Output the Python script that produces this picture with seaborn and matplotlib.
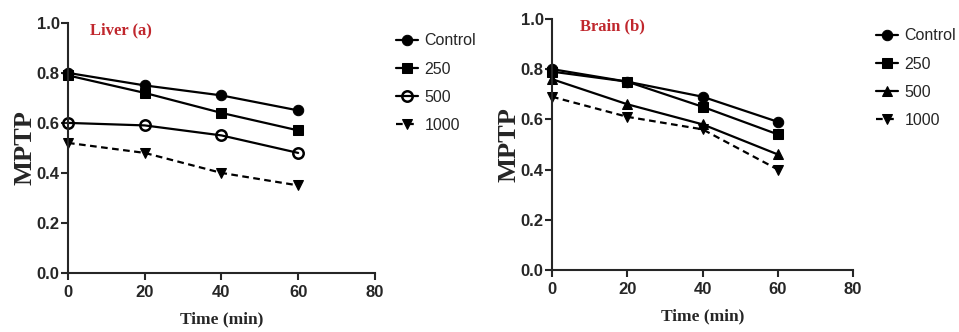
import matplotlib
matplotlib.use("Agg")
import matplotlib.pyplot as plt
import seaborn as sns
import pandas as pd

time_min = [0, 20, 40, 60]
groups = ["Control", "250", "500", "1000"]

liver_control = [0.80, 0.75, 0.71, 0.65]
liver_250 = [0.79, 0.72, 0.64, 0.57]
liver_500 = [0.60, 0.59, 0.55, 0.48]
liver_1000 = [0.52, 0.48, 0.40, 0.35]

brain_control = [0.80, 0.75, 0.69, 0.59]
brain_250 = [0.79, 0.75, 0.65, 0.54]
brain_500 = [0.76, 0.66, 0.58, 0.46]
brain_1000 = [0.69, 0.61, 0.56, 0.40]

x_ticks = [0, 20, 40, 60, 80]
y_ticks = [0.0, 0.2, 0.4, 0.6, 0.8, 1.0]


def long_frame(series):
    rows = []
    for g, vals in zip(groups, series):
        for t, v in zip(time_min, vals):
            rows.append({"Time": t, "MPTP": v, "Group": g})
    return pd.DataFrame(rows)


sns.set_style("ticks")
plt.rcParams["font.family"] = ["Liberation Sans", "DejaVu Sans"]

fig = plt.figure(figsize=(9.59, 3.32), dpi=100)
ax1 = fig.add_axes([0.0709, 0.178, 0.320, 0.753])
ax2 = fig.add_axes([0.5756, 0.187, 0.314, 0.756])

panels = [
    (ax1, long_frame([liver_control, liver_250, liver_500, liver_1000]),
     "Liver (a)", 5.8, {"Control": "o", "250": "s", "500": "open", "1000": "v"},
     (1.068, 0.958)),
    (ax2, long_frame([brain_control, brain_250, brain_500, brain_1000]),
     "Brain (b)", 7.4, {"Control": "o", "250": "s", "500": "^", "1000": "v"},
     (1.075, 0.962)),
]

for ax, df, title, title_x, markers, leg_anchor in panels:
    for g in groups:
        sub = df[df["Group"] == g]
        mk = markers[g]
        kw = dict(markersize=7.5, markeredgecolor="black")
        if mk == "open":
            mk = "o"
            kw = dict(markersize=7.5, markerfacecolor="none",
                      markeredgecolor="black", markeredgewidth=1.8)
        sns.lineplot(data=sub, x="Time", y="MPTP", ax=ax, color="black",
                     marker=mk, linewidth=1.6, label=g, **kw)
        if g == "1000":
            ax.lines[-1].set_linestyle((0, (3, 2)))
    ax.set_xlim(0, 80)
    ax.set_ylim(0, 1.0)
    ax.set_xticks(x_ticks)
    ax.set_yticks(y_ticks)
    ax.set_xticklabels([str(v) for v in x_ticks], fontweight="bold", fontsize=12)
    ax.set_yticklabels([f"{v:.1f}" for v in y_ticks], fontweight="bold", fontsize=12)
    ax.spines["top"].set_visible(False)
    ax.spines["right"].set_visible(False)
    for s in ("left", "bottom"):
        ax.spines[s].set_linewidth(1.5)
    ax.tick_params(width=1.5, length=5, direction="out")
    ax.tick_params(axis="x", pad=4)
    ax.tick_params(axis="y", pad=1)
    ax.set_xlabel("Time (min)", family="Liberation Serif", fontweight="bold",
                  fontsize=12.5, labelpad=8)
    ax.set_ylabel("MPTP", family="Liberation Serif", fontweight="bold",
                  fontsize=19, labelpad=0)
    ax.text(title_x, 0.97, title, color="#c0272d", family="Liberation Serif",
            fontweight="bold", fontsize=12, va="center")
    for ln in ax.lines:
        ln.set_clip_on(False)
    ax.legend(loc="upper left", bbox_to_anchor=leg_anchor, frameon=False,
              borderaxespad=0, borderpad=0, prop={"size": 11.5},
              handlelength=1.4, handletextpad=0.4, labelspacing=0.82)

fig.savefig("out.png", dpi=100)
